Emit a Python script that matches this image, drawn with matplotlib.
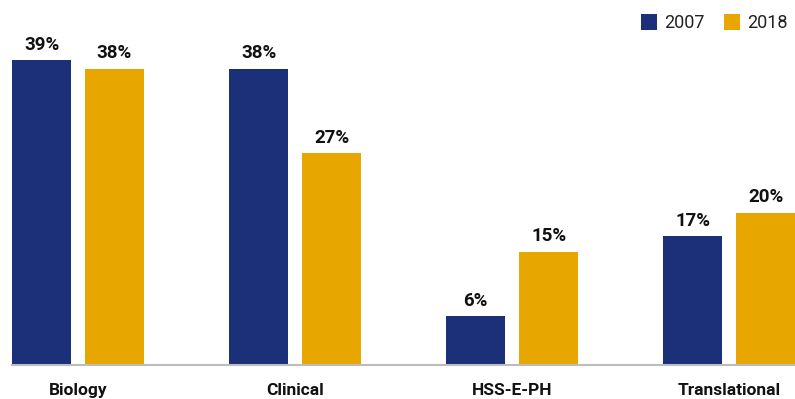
import matplotlib
matplotlib.use("Agg")
import matplotlib.pyplot as plt
import numpy as np

categories = ["Biology", "Clinical", "HSS-E-PH", "Translational"]
series_names = ["2007", "2018"]
values_2007 = [39.0, 37.9, 6.3, 16.5]
values_2018 = [37.9, 27.1, 14.5, 19.5]
labels_2007 = ["39%", "38%", "6%", "17%"]
labels_2018 = ["38%", "27%", "15%", "20%"]
colors = ["#1b3078", "#e8a700"]

plt.rcParams['font.family'] = ['Roboto', 'DejaVu Sans']

fig = plt.figure(figsize=(7.95, 3.99), dpi=100)
ax = fig.add_axes([12/795, 34/399, 783/795, 325/399])

x = np.arange(len(categories))
w = 0.272
off = 0.168
b1 = ax.bar(x - off, values_2007, w, color=colors[0], label=series_names[0])
b2 = ax.bar(x + off, values_2018, w, color=colors[1], label=series_names[1])

for bars, labs in ((b1, labels_2007), (b2, labels_2018)):
    for rect, lab in zip(bars, labs):
        ax.annotate(lab, (rect.get_x() + rect.get_width()/2, rect.get_height()),
                    xytext=(0, 7.3), textcoords="offset points", ha="center", va="baseline",
                    fontsize=13.5, fontweight="bold", color="#111111")

ax.set_xlim(-0.304, 3.302)
ax.set_ylim(0, 325/7.82)
ax.set_xticks(x)
ax.set_xticklabels(categories, fontsize=12.5, fontweight="bold", color="#111111")
ax.tick_params(axis="x", length=0, pad=13)
ax.set_yticks([])
for s in ["top", "right", "left"]:
    ax.spines[s].set_visible(False)
ax.spines["bottom"].set_color("#bdbdbd")
ax.spines["bottom"].set_linewidth(1.5)

leg = fig.legend(handles=[b1, b2], labels=series_names, loc="upper right",
                 bbox_to_anchor=(1.0, 1.0 - 7/399), ncol=2, frameon=False, fontsize=13,
                 handlelength=0.89, handleheight=1.0, handletextpad=0.39, columnspacing=1.1,
                 borderaxespad=0.0, borderpad=0.4)
for t in leg.get_texts():
    t.set_color("#222222")

fig.savefig("out.png", dpi=100)
